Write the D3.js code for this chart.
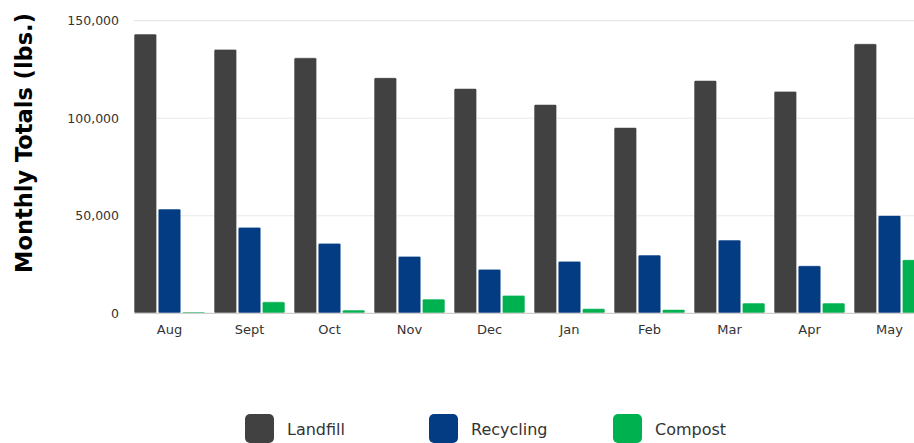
<!DOCTYPE html>
<html>
<head>
<meta charset="utf-8">
<script src="https://cdn.jsdelivr.net/npm/d3@7"></script>
<style>
  body { margin: 0; background: #fff; }
  svg { display: block; font-family: "DejaVu Sans", sans-serif; }
</style>
</head>
<body>
<div id="chart"></div>
<script>
// Data (lbs per month)
const months = ["Aug", "Sept", "Oct", "Nov", "Dec", "Jan", "Feb", "Mar", "Apr", "May"];
const seriesNames = ["Landfill", "Recycling", "Compost"];
const landfill = [143200, 135300, 131000, 120800, 115300, 107100, 95300, 119400, 113800, 138200];
const recycling = [53500, 44100, 35900, 29200, 22600, 26700, 29900, 37600, 24400, 50200];
const compost = [700, 5900, 1700, 7300, 9200, 2400, 2000, 5300, 5300, 27500];
const yTicks = [0, 50000, 100000, 150000];
const colors = ["#414142", "#043c83", "#00b14f"];

const width = 914, height = 443;
const plotTop = 20.7, plotBottom = 313.3, plotLeft = 134;

const rows = months.map((m, i) => ({
  month: m,
  values: [landfill[i], recycling[i], compost[i]]
}));

const svg = d3.select("#chart").append("svg")
  .attr("width", width)
  .attr("height", height);

const y = d3.scaleLinear().domain([0, 150000]).range([plotBottom, plotTop]);

// outer band: step 80px, 9px gap between month groups
const x0 = d3.scaleBand()
  .domain(months)
  .range([plotLeft, plotLeft + 80 * (months.length - 0.1125)])
  .paddingInner(0.1125)
  .paddingOuter(0);

const x1 = d3.scaleBand()
  .domain(seriesNames)
  .range([0, x0.bandwidth()])
  .paddingInner(0.06);

// gridlines
svg.append("g")
  .selectAll("line")
  .data(yTicks.filter(d => d > 0))
  .join("line")
  .attr("x1", plotLeft)
  .attr("x2", width)
  .attr("y1", d => y(d))
  .attr("y2", d => y(d))
  .attr("stroke", "#e8e8e8")
  .attr("stroke-width", 1.2);

// y axis labels
const yAxis = svg.append("g")
  .attr("transform", `translate(${plotLeft - 12},0)`)
  .call(d3.axisLeft(y).tickValues(yTicks).tickSize(0).tickFormat(d3.format(",")));
yAxis.select(".domain").remove();
yAxis.selectAll("text")
  .attr("fill", "#333")
  .attr("font-size", 12.5)
  .attr("font-family", "DejaVu Sans, sans-serif");

// bars
svg.append("g")
  .selectAll("g")
  .data(rows)
  .join("g")
  .attr("transform", d => `translate(${x0(d.month)},0)`)
  .selectAll("rect")
  .data(d => d.values.map((v, k) => ({ key: seriesNames[k], value: v, k })))
  .join("rect")
  .attr("x", d => x1(d.key))
  .attr("y", d => y(d.value))
  .attr("width", x1.bandwidth())
  .attr("height", d => plotBottom - y(d.value))
  .attr("rx", 1.5)
  .attr("fill", d => colors[d.k])
  .attr("stroke", "#fff")
  .attr("stroke-width", 0.6);

// baseline
svg.append("line")
  .attr("x1", plotLeft)
  .attr("x2", width)
  .attr("y1", plotBottom)
  .attr("y2", plotBottom)
  .attr("stroke", "#cfcfcf")
  .attr("stroke-width", 1.2);

// x axis labels
const xAxis = svg.append("g")
  .attr("transform", `translate(0,${plotBottom + 8})`)
  .call(d3.axisBottom(x0).tickSize(0));
xAxis.select(".domain").remove();
xAxis.selectAll("text")
  .attr("fill", "#333")
  .attr("font-size", 13)
  .attr("font-family", "DejaVu Sans, sans-serif");

// y axis title
svg.append("text")
  .attr("transform", `translate(32,143) rotate(-90)`)
  .attr("text-anchor", "middle")
  .attr("font-size", 22.5)
  .attr("font-weight", "bold")
  .attr("fill", "#000")
  .text("Monthly Totals (lbs.)");

// legend
const legend = svg.append("g")
  .selectAll("g")
  .data(seriesNames)
  .join("g")
  .attr("transform", (d, i) => `translate(${245 + i * 184},414)`);

legend.append("rect")
  .attr("width", 29)
  .attr("height", 29)
  .attr("rx", 5)
  .attr("fill", (d, i) => colors[i]);

legend.append("text")
  .attr("x", 42)
  .attr("y", 15)
  .attr("dy", "0.35em")
  .attr("font-size", 16)
  .attr("fill", "#333")
  .text(d => d);
</script>
</body>
</html>
